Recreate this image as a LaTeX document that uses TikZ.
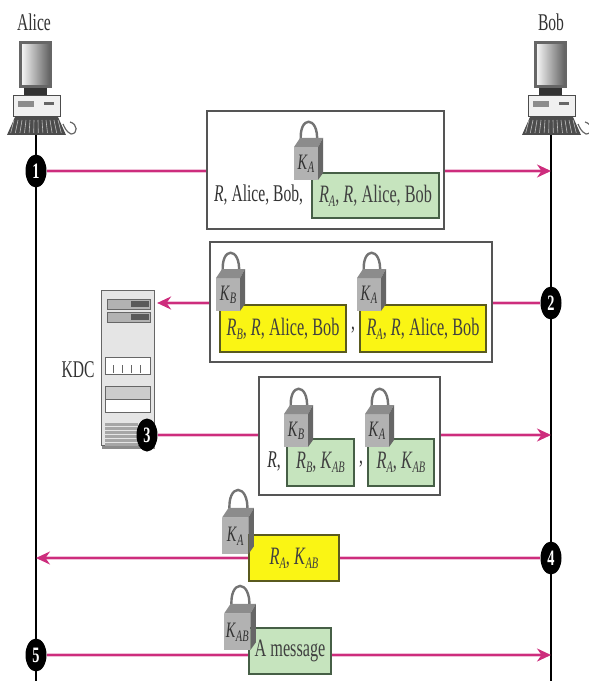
\documentclass[tikz,border=0pt]{standalone}
\usepackage{fontspec}
\setmainfont[FakeStretch=0.65]{Liberation Serif}
\usetikzlibrary{arrows.meta,shapes.geometric}
\definecolor{msgpink}{RGB}{205,45,125}
\definecolor{keygreen}{RGB}{198,228,190}
\definecolor{keyyellow}{RGB}{250,245,20}
\definecolor{edgegray}{RGB}{85,85,85}
\definecolor{greenedge}{RGB}{70,95,70}
\definecolor{yellowedge}{RGB}{90,90,30}
\newcommand{\subtxt}[2]{\textit{#1}\raisebox{-.35ex}{\fontsize{16}{16}\selectfont\textit{#2}}}
\tikzset{
 lbl/.style={font=\fontsize{24}{26}\selectfont,text=black!80,inner sep=0pt},
 msgbox/.style={draw=edgegray,line width=1.6pt,fill=white,inner sep=0pt},
 greenbox/.style={draw=greenedge,line width=1.6pt,fill=keygreen,inner sep=0pt,font=\fontsize{25}{27}\selectfont,text=black!75},
 yellowbox/.style={draw=yellowedge,line width=1.6pt,fill=keyyellow,inner sep=0pt,font=\fontsize{25}{27}\selectfont,text=black!75},
 stepdot/.style={ellipse,fill=black,text=white,inner sep=0pt,minimum width=21pt,minimum height=33pt,font=\bfseries\fontsize{22}{22}\selectfont},
 msg/.style={msgpink,line width=2.2pt,preaction={draw=msgpink!30,line width=4.2pt}},
 msgarrow/.style={msgpink,line width=2.2pt,-{Stealth[length=14pt,width=13pt]},preaction={draw=msgpink!30,line width=4.2pt,arrows=-,shorten >=7pt}},
 pics/lockkey/.style={code={
   \draw[black!55,line width=2.4pt] (7,-38) .. controls (4,-65) and (25,-65) .. (23,-38);
   \fill[black!30] (0,0) rectangle (24,-33);
   \fill[black!45] (0,-33) -- (6,-42) -- (29,-42) -- (24,-33) -- cycle;
   \fill[black!60] (24,0) -- (29,-7) -- (29,-42) -- (24,-33) -- cycle;
   \node[inner sep=0pt,font=\fontsize{22}{22}\selectfont,text=black!80] at (12,-16) {#1};
 }},
 pics/deskpc/.style={code={
   \fill[black!60] (-17,41) rectangle (16,88);
   \shade[left color=black!5,right color=black!60] (-14,45) rectangle (13,85);
   \fill[black!80] (-12,88) rectangle (11,96);
   \draw[black!70,fill=black!6,line width=1pt] (-23,96) rectangle (24,117);
   \fill[black!45] (-18,101) rectangle (-2,107);
   \fill[black!60] (8,102) rectangle (18,105);
   \fill[black!70] (-29,135) -- (-21,117) -- (22,117) -- (30,135) -- cycle;
   \foreach \kx in {-22,-18,...,22} \draw[white!75!black,line width=.6pt] (\kx,120) -- (\kx*1.15,133);
   \draw[black!60,line width=1.2pt] (34,122) .. controls (42,124) and (42,134) .. (35,134) .. controls (30,132) and (28,126) .. (27,124);
 }}
}
\begin{document}
\begin{tikzpicture}[x=1pt,y=-1pt]
 \useasboundingbox (0,0) rectangle (588,684);
 \coordinate (aliceline) at (36,135);
 \coordinate (aliceend) at (36,681);
 \coordinate (bobline) at (551,135);
 \coordinate (bobend) at (551,681);
 \draw[black,line width=1.2pt] (aliceline) -- (aliceend);
 \draw[black,line width=1.2pt] (bobline) -- (bobend);
 \node[lbl] (alicelbl) at (34,22) {Alice};
 \node[lbl] (boblbl) at (551,22) {Bob};
 \pic at (36,0) {deskpc};
 \pic at (551,0) {deskpc};

 \node[stepdot] (step1) at (36,171) {1};
 \node[stepdot] (step2) at (551,303) {2};
 \node[stepdot] (step4) at (551,558) {4};
 \node[stepdot] (step5) at (36,655) {5};

 \node[draw=black!60,fill=black!10,line width=1.2pt,minimum width=53pt,minimum height=155pt,inner sep=0pt] (kdc) at (128,368) {};
 \fill[black!45] (102,446) rectangle (155,449);
 \foreach \sy in {299,312} {
   \draw[black!60,fill=black!30,line width=1pt] (107,\sy) rectangle (150,\sy+10);
   \fill[black!65] (131,\sy+2) rectangle (149,\sy+8);
 }
 \draw[black!60,fill=white,line width=1pt] (105,357) rectangle (150,374);
 \foreach \tx in {113,122,131,140} \draw[black!60] (\tx,365) -- (\tx,373);
 \draw[black!60,fill=black!20,line width=1pt] (105,386) rectangle (150,399);
 \draw[black!60,fill=white,line width=1pt] (105,399) rectangle (150,412);
 \foreach \ty in {423,427,...,443} \fill[black!35] (105,\ty) rectangle (138,\ty+3);
 \node[lbl] (kdclbl) at (78,370) {KDC};
 \node[stepdot] (step3) at (147,435) {3};

 \node[msgbox,minimum width=237pt,minimum height=118pt] (msgA) at (325.5,170) {};
 \node[lbl,anchor=west] (plainA) at (214,195) {\textit{R}, Alice, Bob,};
 \node[greenbox,minimum width=127pt,minimum height=45pt] (sealA) at (375.5,195.5) {\subtxt{R}{A}, \textit{R}, Alice, Bob};
 \pic at (294,180) {lockkey={\subtxt{K}{A}}};

 \node[msgbox,minimum width=282pt,minimum height=120pt] (msgB) at (351,302) {};
 \node[yellowbox,minimum width=126pt,minimum height=47pt] (sealB) at (283,328.5) {\subtxt{R}{B}, \textit{R}, Alice, Bob};
 \node[yellowbox,minimum width=126pt,minimum height=47pt] (sealC) at (423,328.5) {\subtxt{R}{A}, \textit{R}, Alice, Bob};
 \node[lbl] (commaB) at (353,330) {,};
 \pic at (216,311) {lockkey={\subtxt{K}{B}}};
 \pic at (357,311) {lockkey={\subtxt{K}{A}}};

 \node[msgbox,minimum width=181pt,minimum height=118pt] (msgC) at (349.5,436) {};
 \node[lbl] (plainC) at (274,461) {\textit{R},};
 \node[greenbox,minimum width=67pt,minimum height=47pt] (sealD) at (320.5,462.5) {\subtxt{R}{B}, \subtxt{K}{AB}};
 \node[greenbox,minimum width=66pt,minimum height=47pt] (sealE) at (401,462.5) {\subtxt{R}{A}, \subtxt{K}{AB}};
 \node[lbl] (commaC) at (361,464) {,};
 \pic at (284,447) {lockkey={\subtxt{K}{B}}};
 \pic at (365,447) {lockkey={\subtxt{K}{A}}};

 \node[yellowbox,minimum width=90pt,minimum height=46pt] (sealF) at (294,558) {\subtxt{R}{A}, \subtxt{K}{AB}};
 \pic[scale=1.1] at (222,554) {lockkey={\subtxt{K}{A}}};

 \node[greenbox,minimum width=82pt,minimum height=46pt] (sealG) at (290,651) {A message};
 \pic[scale=1.1] at (224,650) {lockkey={\subtxt{K}{AB}}};

 \draw[msg] (step1) -- (step1 -| msgA.west);
 \draw[msgarrow] (step1 -| msgA.east) -- (step1 -| bobline);
 \draw[msg] (step2) -- (step2 -| msgB.east);
 \draw[msgarrow,shorten >=2pt] (step2 -| msgB.west) -- (step2 -| kdc.east);
 \draw[msg] (step3) -- (step3 -| msgC.west);
 \draw[msgarrow] (step3 -| msgC.east) -- (step3 -| bobline);
 \draw[msg] (step4) -- (step4 -| sealF.east);
 \draw[msgarrow] (step4 -| sealF.west) -- (step4 -| aliceline);
 \draw[msg] (step5) -- (step5 -| sealG.west);
 \draw[msgarrow] (step5 -| sealG.east) -- (step5 -| bobline);
\end{tikzpicture}
\end{document}
